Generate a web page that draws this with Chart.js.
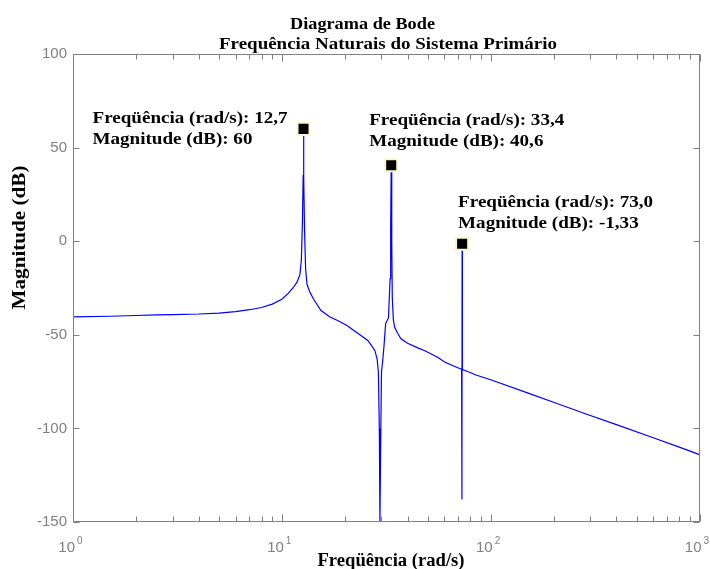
<!DOCTYPE html>
<html><head><meta charset="utf-8">
<script src="https://cdn.jsdelivr.net/npm/chart.js@4.4.0/dist/chart.umd.min.js"></script>
<style>html,body{margin:0;padding:0;background:#fff;overflow:hidden}
#wrap{position:relative;width:710px;height:569px}</style>
</head><body><div id="wrap"><canvas id="c" width="710" height="569"></canvas></div>
<script>
// ---- data ----
const freq = [1,1.5,2,2.5,3,4,5,6,7,8,9,10,10.7,11.3,11.8,12.2,12.4,12.55,12.65,12.7,12.75,12.85,13.0,13.2,13.6,14.2,15.4,17,18.6,20.5,22.3,24,25.8,27,27.9,28.6,29.0,29.3,29.5,29.7,30.0,30.4,30.9,31.4,32.4,33.0,33.2,33.4,33.6,33.8,34.2,34.7,35.8,37.1,40,44.8,48.4,55.7,60.2,66,71,72.6,72.85,73.0,73.15,73.3,77,85,100,150,200,284,400,600,800,1000];
const magDb = [-40.4,-40.1,-39.7,-39.4,-39.2,-38.9,-38.4,-37.6,-36.6,-35.4,-33.6,-31,-28,-25,-22,-18,-10,10,35,60,35,5,-15,-23,-27,-31,-37,-40.5,-42.5,-45,-48,-50.5,-53,-56,-58.5,-63,-70,-100,-150,-115,-70,-64,-55,-44,-41,-20,7,40.6,-1,-30,-42,-46,-49,-52,-54.5,-57,-58.5,-62,-64.5,-66.5,-68,-68.3,-138,-1.33,-20,-68.6,-69.5,-71.5,-74,-81,-86,-92.2,-98,-105,-110,-114];
const peakFreq = [12.7, 33.4, 73.0];
const peakMag = [60, 40.6, -1.33];
const peakFreqText = ['12,7', '33,4', '73,0'];
const peakMagText = ['60', '40,6', '-1,33'];
const yTicks = [-150, -100, -50, 0, 50, 100];
const xTickValues = [1, 10, 100, 1000];
const xTickBase = ['10', '10', '10', '10'];
const xTickExp = ['0', '1', '2', '3'];
const xMinorTicks = [2,3,4,5,6,7,8,9,20,30,40,50,60,70,80,90,200,300,400,500,600,700,800,900];
const titleLines = ['Diagrama de Bode', 'Frequência Naturais do Sistema Primário'];
const xTitle = 'Freqüência (rad/s)';
const yTitle = 'Magnitude (dB)';
const annFreqPrefix = 'Freqüência (rad/s): ';
const annMagPrefix = 'Magnitude (dB): ';

// ---- style / layout ----
const AXIS = '#808080';
const SERIF = "'Liberation Serif','Times New Roman',serif";
const SANS = "'Liberation Sans',Arial,sans-serif";
const annOffsets = [[-211, -6], [-22, -40], [-4, -37]]; // text offset from marker pixel
const annLineGap = 21;

function fitText(ctx, str, x, y, w, align, font) {
  ctx.font = font;
  const m = ctx.measureText(str).width;
  const s = w / m;
  ctx.save(); ctx.translate(x, y); ctx.scale(s, 1);
  ctx.textAlign = align; ctx.textBaseline = 'alphabetic';
  ctx.fillText(str, 0, 0); ctx.restore();
}

const deco = {
  id: 'deco',
  afterDraw(chart) {
    const {ctx, chartArea: a, scales: {x, y}} = chart;
    ctx.save();
    const L = Math.round(a.left) + 0.5, R = Math.round(a.right) - 0.5;
    const T = Math.round(a.top) + 0.5, B = Math.round(a.bottom) - 0.5;
    ctx.strokeStyle = AXIS; ctx.lineWidth = 1;
    ctx.strokeRect(L, T, R - L, B - T);
    ctx.beginPath();
    for (const v of xMinorTicks) {
      const px = Math.round(x.getPixelForValue(v)) + 0.5;
      ctx.moveTo(px, B); ctx.lineTo(px, B - 5);
      ctx.moveTo(px, T); ctx.lineTo(px, T + 5);
    }
    for (const v of xTickValues) {
      const px = Math.round(x.getPixelForValue(v)) + 0.5;
      ctx.moveTo(px, B); ctx.lineTo(px, B - 7);
      ctx.moveTo(px, T); ctx.lineTo(px, T + 7);
    }
    for (const v of yTicks) {
      const py = Math.round(y.getPixelForValue(v)) + 0.5;
      ctx.moveTo(L, py); ctx.lineTo(L + 6, py);
      ctx.moveTo(R, py); ctx.lineTo(R - 6, py);
    }
    ctx.stroke();

    // x tick labels 10^n
    ctx.fillStyle = AXIS;
    xTickValues.forEach((v, i) => {
      const px = x.getPixelForValue(v);
      ctx.font = '15px ' + SANS; ctx.textAlign = 'right'; ctx.textBaseline = 'alphabetic';
      ctx.fillText(xTickBase[i], px + 2, 552);
      ctx.font = '10px ' + SANS; ctx.textAlign = 'left';
      ctx.fillText(xTickExp[i], px + 4, 544);
    });

    // titles
    ctx.fillStyle = '#000';
    fitText(ctx, titleLines[0], 290, 29, 145, 'left', 'bold 17px ' + SERIF);
    fitText(ctx, titleLines[1], 219, 49, 338, 'left', 'bold 17px ' + SERIF);
    fitText(ctx, xTitle, 391, 566, 147, 'center', 'bold 18px ' + SERIF);
    ctx.save();
    ctx.translate(25, 237.5); ctx.rotate(-Math.PI / 2);
    fitText(ctx, yTitle, 0, 0, 144, 'center', 'bold 18px ' + SERIF);
    ctx.restore();

    // annotations
    const annFont = 'bold 16px ' + SERIF;
    ctx.font = annFont;
    const s = 195 / ctx.measureText(annFreqPrefix + peakFreqText[0]).width;
    peakFreq.forEach((f, i) => {
      const px = x.getPixelForValue(f), py = y.getPixelForValue(peakMag[i]);
      const tx = px + annOffsets[i][0], ty = py + annOffsets[i][1];
      const l1 = annFreqPrefix + peakFreqText[i], l2 = annMagPrefix + peakMagText[i];
      ctx.font = annFont;
      fitText(ctx, l1, tx, ty, ctx.measureText(l1).width * s, 'left', annFont);
      ctx.font = annFont;
      fitText(ctx, l2, tx, ty + annLineGap, ctx.measureText(l2).width * s, 'left', annFont);
    });
    ctx.restore();
  }
};

new Chart(document.getElementById('c'), {
  type: 'line',
  data: {
    datasets: [
      {
        data: peakFreq.map((f, i) => ({x: f, y: peakMag[i]})),
        showLine: false, pointStyle: 'rect', pointRadius: 8.5,
        backgroundColor: '#000', borderColor: '#fbf6cc', borderWidth: 2
      },
      {
        data: freq.map((f, i) => ({x: f, y: magDb[i]})),
        borderColor: '#0000ff', borderWidth: 1.2, pointRadius: 0, tension: 0, fill: false
      }
    ]
  },
  options: {
    responsive: false, animation: false, events: [],
    layout: {padding: {left: 0, top: 54, right: 6, bottom: 47}},
    plugins: {legend: {display: false}, tooltip: {enabled: false}, title: {display: false}},
    scales: {
      x: {type: 'logarithmic', min: 1, max: 1000, display: false},
      y: {
        min: -150, max: 100,
        afterBuildTicks: s => { s.ticks = yTicks.map(v => ({value: v})); },
        afterFit: s => { s.width = 73; },
        grid: {display: false, drawTicks: false},
        border: {display: false},
        ticks: {color: AXIS, padding: 6, font: {family: SANS, size: 15}}
      }
    }
  },
  plugins: [deco]
});
</script>
</body></html>
